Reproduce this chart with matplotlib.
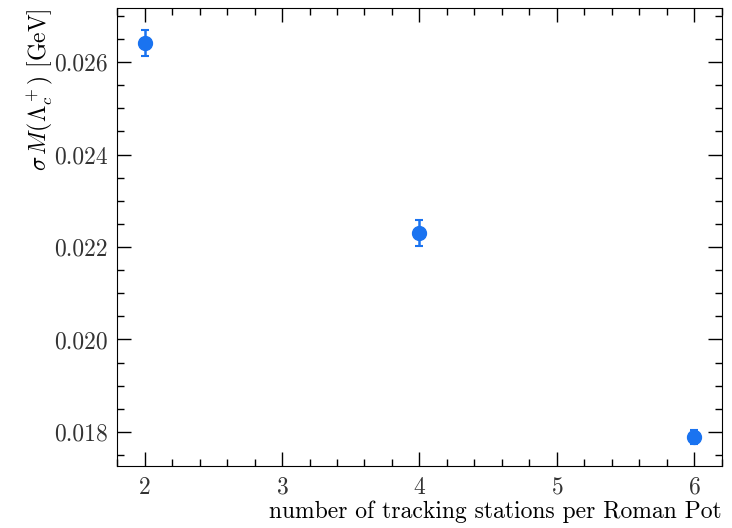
import numpy as np
import matplotlib
matplotlib.use("Agg")
import matplotlib.pyplot as plt
from matplotlib.ticker import MultipleLocator, AutoMinorLocator

# resolucion en masa vs numero de estaciones
n_estaciones = [2, 4, 6]
sigma_m = [0.02641, 0.02230, 0.01789]
err_sigma = [0.00028, 0.00028, 0.00016]

plt.rcParams['font.family'] = 'serif'
plt.rcParams['font.serif'] = ['cmr10']
plt.rcParams['mathtext.fontset'] = 'cm'
plt.rcParams['axes.formatter.use_mathtext'] = True
plt.rcParams['font.size'] = 17
plt.rcParams['text.color'] = '#333333'
plt.rcParams['xtick.labelcolor'] = '#333333'
plt.rcParams['ytick.labelcolor'] = '#333333'

fig, ax = plt.subplots(figsize=(7.32, 5.28), dpi=100)
fig.subplots_adjust(left=0.16, right=0.986, top=0.985, bottom=0.118)

ax.errorbar(n_estaciones, sigma_m, yerr=err_sigma, fmt='o', color='#1a73f0',
            markersize=10, elinewidth=1.8, capsize=3, capthick=1.5)

ax.set_xlim(1.8, 6.2)
ax.set_ylim(0.01727, 0.02717)
ax.xaxis.set_major_locator(MultipleLocator(1))
ax.xaxis.set_minor_locator(AutoMinorLocator(5))
ax.yaxis.set_major_locator(MultipleLocator(0.002))
ax.yaxis.set_minor_locator(AutoMinorLocator(4))
ax.yaxis.set_major_formatter(plt.FormatStrFormatter('%.3f'))

ax.tick_params(which='both', direction='in', top=True, right=True)
ax.tick_params(which='major', length=10, width=1)
ax.tick_params(which='minor', length=5, width=1)
ax.tick_params(axis='x', pad=8)
ax.tick_params(axis='y', pad=7)

ax.set_xlabel('number of tracking stations per Roman Pot', loc='right', labelpad=1)
ax.set_ylabel(r'$\sigma\,M(\Lambda_c^+)$ [GeV]', loc='top', labelpad=-1)

plt.savefig('out.png', dpi=100)
